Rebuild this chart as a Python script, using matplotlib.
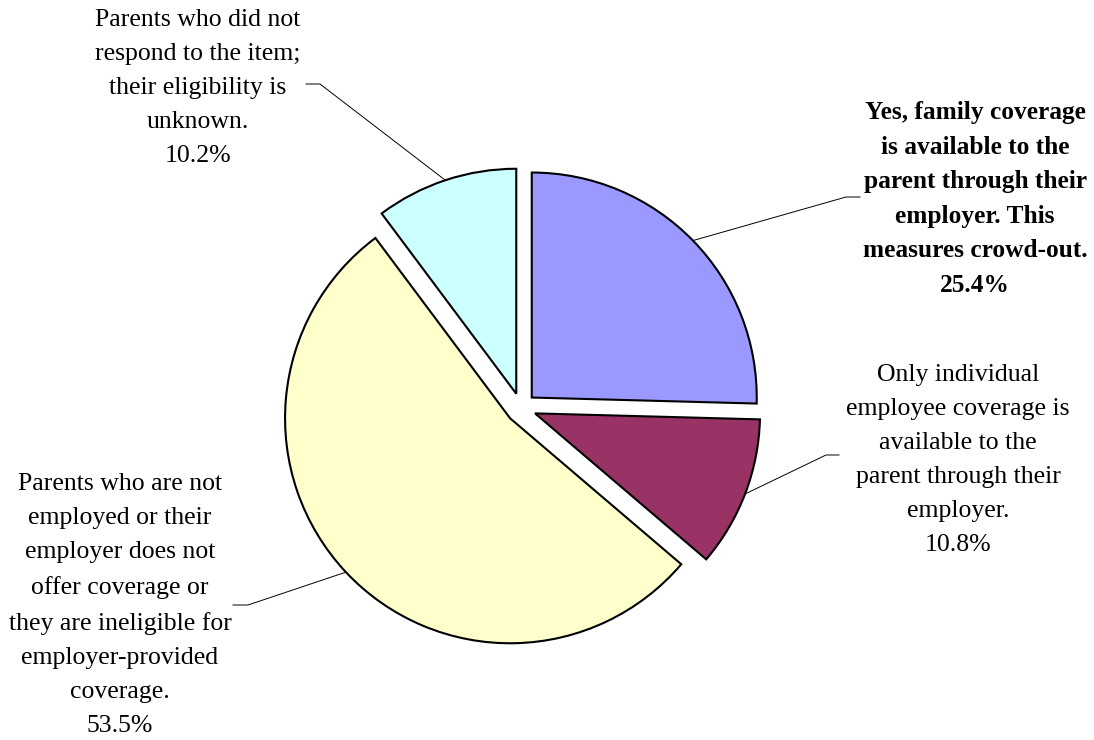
import numpy as np
import matplotlib.pyplot as plt

plt.rcParams['font.family'] = ['Liberation Serif', 'DejaVu Serif']

# slice data, clockwise from 12 o'clock
labels = [
    "Yes, family coverage\nis available to the\nparent through their\nemployer. This\nmeasures crowd-out.",
    "Only individual\nemployee coverage is\navailable to the\nparent through their\nemployer.",
    "Parents who are not\nemployed or their\nemployer does not\noffer coverage or\nthey are ineligible for\nemployer-provided\ncoverage.",
    "Parents who did not\nrespond to the item;\ntheir eligibility is\nunknown.",
]
shares = [25.4, 10.8, 53.5, 10.2]
colors = ["#9999FF", "#993366", "#FFFFCC", "#CCFFFF"]
bold = [True, False, False, False]

W, H = 1094, 740
fig = plt.figure(figsize=(W / 100, H / 100), dpi=100)
ax = fig.add_axes([0, 0, 1, 1])

cx, cy, r = 521, H - 408, 225
wedges, _ = ax.pie(shares, colors=colors, startangle=90, counterclock=False,
                   center=(cx, cy), radius=r, explode=[15] * len(shares),
                   wedgeprops=dict(edgecolor='black', linewidth=1.5))
ax.set_xlim(0, W)
ax.set_ylim(0, H)
ax.set_aspect('equal')
ax.axis('off')

# label layout in pixel coords (y from top): text centre x, last baseline y
text_pos = [(975, 292), (958, 551), (120, 732), (198, 162)]
elbows = [((846, 197), (860, 197)), ((826, 455), (839, 455)),
          ((248, 605), (233, 605)), ((320, 84), (306, 84))]

for w, lab, val, b, (tx, ty), (e1, e2) in zip(wedges, labels, shares, bold, text_pos, elbows):
    tm = np.radians((w.theta1 + w.theta2) / 2)
    px = w.center[0] + w.r * np.cos(tm)
    py = w.center[1] + w.r * np.sin(tm)
    ax.plot([px, e1[0], e2[0]], [py, H - e1[1], H - e2[1]], color='black', lw=0.7)
    ax.text(tx, H - ty, f"{lab}\n{val:.1f}%", ha='center', va='baseline',
            multialignment='center', fontsize=18.3 if b else 18.5,
            linespacing=1.64 if b else 1.71,
            fontweight='bold' if b else 'normal')

fig.savefig('out.png', dpi=100, facecolor='white')
